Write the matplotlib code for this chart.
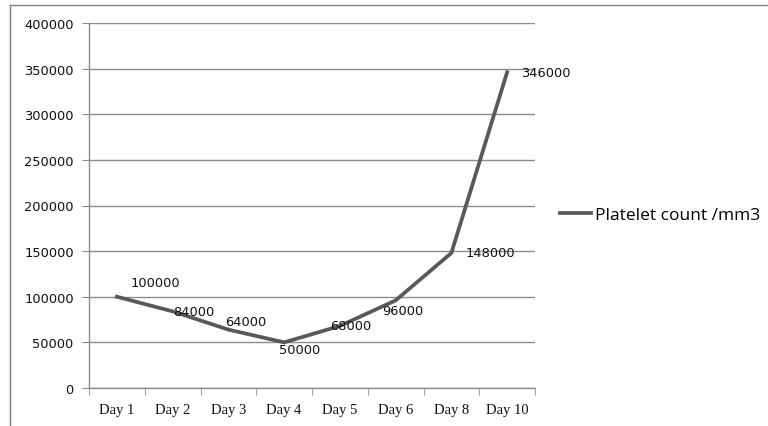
import matplotlib
matplotlib.use("Agg")
import matplotlib.pyplot as plt
from matplotlib.lines import Line2D

days = ["Day 1", "Day 2", "Day 3", "Day 4", "Day 5", "Day 6", "Day 8", "Day 10"]
platelets = [100000, 84000, 64000, 50000, 68000, 96000, 148000, 346000]
series_name = "Platelet count /mm3"
y_ticks = [0, 50000, 100000, 150000, 200000, 250000, 300000, 350000, 400000]

# label offsets in points (dx, dy) relative to each data point
label_offsets = [(10, 10), (0, 0), (-2, 6), (-4, -5), (-7, 0), (-10, -7), (10, 0), (10, 0)]

line_color = "#595959"
grid_color = "#8c8c8c"

fig = plt.figure(figsize=(7.68, 4.27), dpi=100)
ax = fig.add_axes([89 / 768, 1 - 389 / 427, (535 - 89) / 768, (389 - 24) / 427])

x = list(range(len(days)))
ax.plot(x, platelets, color=line_color, lw=2.7, solid_joinstyle="round", label=series_name)

for xi, v, (dx, dy) in zip(x, platelets, label_offsets):
    ax.annotate(f"{v}", (xi, v), xytext=(dx, dy), textcoords="offset points",
                ha="left", va="center", fontsize=9.4, family="DejaVu Sans", color="#111111")

ax.set_xlim(-0.5, len(days) - 0.5)
ax.set_ylim(0, 400000)
ax.set_yticks(y_ticks)
ax.set_yticklabels([str(t) for t in y_ticks], family="DejaVu Sans", fontsize=9.4, color="#111111")
ax.set_xticks(x)
ax.set_xticklabels(days, family="Liberation Serif", fontsize=10.5, color="#111111")
ax.tick_params(axis="x", length=0, pad=11)
ax.tick_params(axis="y", length=5, color=grid_color, pad=6)
# category boundary ticks on the x axis
ax.set_xticks([i - 0.5 for i in range(len(days) + 1)], minor=True)
ax.tick_params(axis="x", which="minor", length=5, color=grid_color, direction="out")

ax.grid(axis="y", color=grid_color, lw=1)
ax.set_axisbelow(True)
for s in ("top", "right"):
    ax.spines[s].set_visible(False)
for s in ("left", "bottom"):
    ax.spines[s].set_color(grid_color)
    ax.spines[s].set_linewidth(1)

fig.legend(handles=[Line2D([], [], color=line_color, lw=2.7)], labels=[series_name],
           loc="center left", bbox_to_anchor=(560 / 768, 1 - 216 / 427),
           frameon=False, borderpad=0, borderaxespad=0, handlelength=1.8, handletextpad=0.22,
           prop={"family": "Open Sans", "size": 12.5})

# outer chart frame
fig.add_artist(Line2D([10 / 768, 10 / 768], [0, 1 - 6 / 427], transform=fig.transFigure,
                      color="#7f7f7f", lw=1))
fig.add_artist(Line2D([10 / 768, 1], [1 - 6 / 427, 1 - 6 / 427], transform=fig.transFigure,
                      color="#7f7f7f", lw=1))

fig.savefig("out.png", dpi=100, facecolor="white")
